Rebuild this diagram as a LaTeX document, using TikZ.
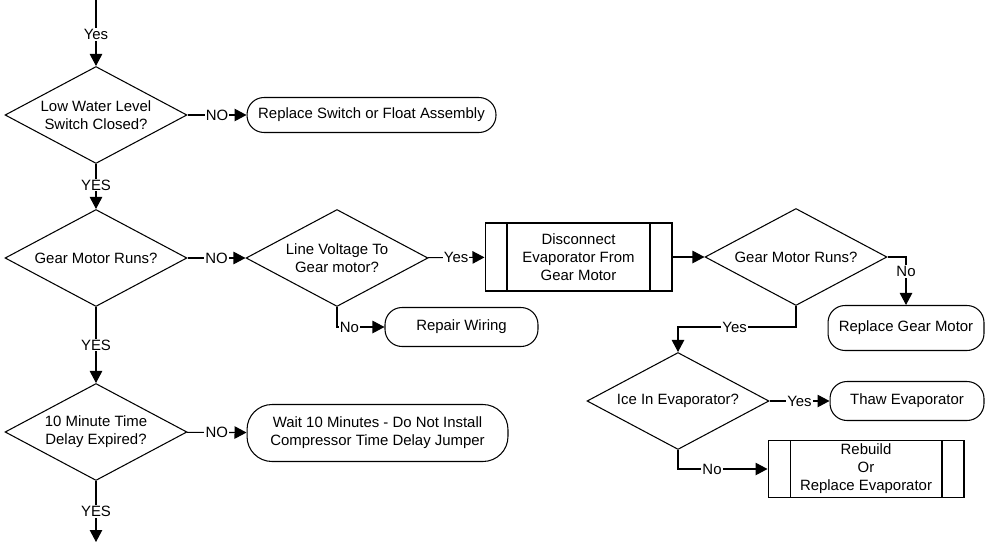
\documentclass[tikz,border=0pt]{standalone}
\usepackage{fontspec}
\setmainfont{Liberation Sans}
\usetikzlibrary{shapes.geometric, arrows.meta}

\tikzset{
  decision/.style={draw, diamond, aspect=1.9, inner sep=0pt,
                   minimum width=3.64cm, minimum height=1.94cm, align=center},
  endbox/.style={draw, rectangle, rounded corners=0.34cm, inner sep=2pt, align=center},
  predefined/.style={draw, rectangle, inner sep=2pt, align=center,
    path picture={
      \draw ([xshift=0.44cm]path picture bounding box.north west) -- ([xshift=0.44cm]path picture bounding box.south west)
            ([xshift=-0.44cm]path picture bounding box.north east) -- ([xshift=-0.44cm]path picture bounding box.south east);
    }},
  flow/.style={draw, -{Triangle[length=0.24cm, width=0.25cm]}},
  answer/.style={fill=white, inner sep=0.6pt},
}

\begin{document}
\begin{tikzpicture}[x=0.02cm, y=-0.02cm, line width=0.6pt, font=\fontsize{8.5}{10.2}\selectfont]
\useasboundingbox (0,0) rectangle (986,544);

% left column
\node[decision] (lowwater) at (96,115) {Low Water Level\\Switch Closed?};
\node[decision] (gearruns) at (96,258) {Gear Motor Runs?};
\node[decision] (delay) at (96,432) {10 Minute Time\\Delay Expired?};
\coordinate (start) at (96,0);
\coordinate (finish) at (96,542);

% actions
\node[endbox, minimum width=4.98cm, minimum height=0.7cm] (replswitch) at (371.5,115) {Replace Switch or Float Assembly};
\node[decision] (linevolt) at (337,258) {Line Voltage To\\Gear motor?};
\node[endbox, minimum width=3.06cm, minimum height=0.78cm] (wiring) at (461.5,327) {Repair Wiring};
\node[endbox, rounded corners=0.5cm, minimum width=5.22cm, minimum height=1.14cm] (wait) at (377.5,433)
  {Wait 10 Minutes - Do Not Install\\Compressor Time Delay Jumper};
\node[predefined, minimum width=3.74cm, minimum height=1.36cm] (disconnect) at (578.5,257)
  {Disconnect\\Evaporator From\\Gear Motor};
\node[decision] (gearruns2) at (796,257) {Gear Motor Runs?};
\node[endbox, minimum width=3.12cm, minimum height=0.9cm] (replgear) at (906,328) {Replace Gear Motor};
\node[decision] (ice) at (678,401) {Ice In Evaporator?};
\node[endbox, minimum width=3.08cm, minimum height=0.78cm] (thaw) at (907,401) {Thaw Evaporator};
\node[predefined, minimum width=3.92cm, minimum height=1.12cm] (rebuild) at (866,469)
  {Rebuild\\Or\\Replace Evaporator};

% connectors
\draw[flow] (start) -- node[answer, pos=0.52] {Yes} (lowwater);
\draw[flow] (lowwater) -- node[answer] {NO} (replswitch);
\draw[flow] (lowwater) -- node[answer, pos=0.47] {YES} (gearruns);
\draw[flow] (gearruns) -- node[answer] {NO} (linevolt);
\draw[flow] (linevolt) -- node[answer] {Yes} (disconnect);
\draw[flow] (linevolt.south) |- node[answer, pos=0.63] {No} (wiring.west);
\draw[flow] (disconnect) -- (gearruns2);
\draw[flow] (gearruns2.east) -| node[answer, pos=0.65] {No} (replgear.north);
\draw[flow] (gearruns2.south) -- ++(0,21) -| node[answer, pos=0.26] {Yes} (ice.north);
\draw[flow] (ice) -- node[answer] {Yes} (thaw);
\draw[flow] (ice.south) |- node[answer, pos=0.69] {No} (rebuild.west);
\draw[flow] (gearruns) -- node[answer] {YES} (delay);
\draw[flow] (delay) -- node[answer] {NO} (wait);
\draw[flow] (delay) -- node[answer] {YES} (finish);
\end{tikzpicture}
\end{document}
